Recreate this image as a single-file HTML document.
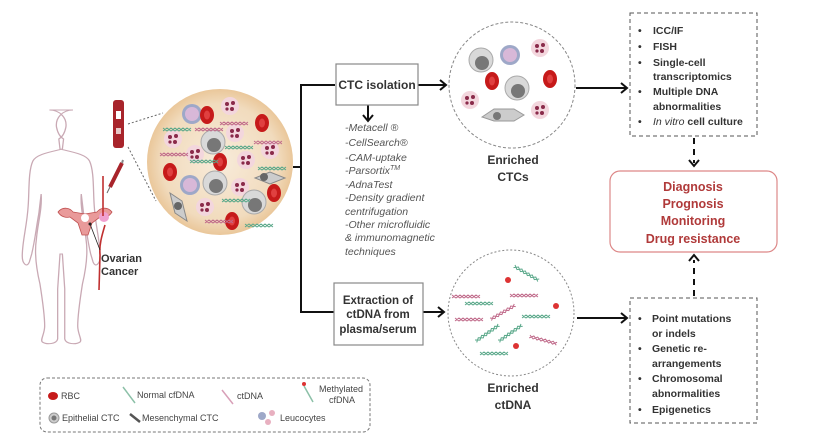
<!DOCTYPE html>
<html><head><meta charset="utf-8"><style>
html,body{margin:0;padding:0;background:#fff;}
svg{display:block;font-family:"Liberation Sans",sans-serif;}
.b{font-weight:bold;fill:#333;font-size:11px;}
.it{font-style:italic;fill:#555;font-size:10.5px;}
.r{fill:#b03a3a;font-size:12.5px;font-weight:bold;}
.lg{fill:#444;font-size:9px;}
</style></head><body>
<svg width="828" height="440" viewBox="0 0 828 440" xmlns="http://www.w3.org/2000/svg">
<defs>
<radialGradient id="bg" cx="50%" cy="50%" r="50%"><stop offset="0" stop-color="#f8ebda"/><stop offset="0.8" stop-color="#f1dbbd"/><stop offset="1" stop-color="#eac79a"/></radialGradient>
<g id="rbc"><ellipse rx="7" ry="9" fill="#c61a1a"/><ellipse rx="3" ry="4.5" fill="#e04040"/></g>
<g id="leu"><circle r="9" fill="#f3d6dd"/><circle cx="-3" cy="-2" r="2" fill="#8a2a4a"/><circle cx="3" cy="-3" r="2" fill="#8a2a4a"/><circle cx="2" cy="3" r="2" fill="#8a2a4a"/><circle cx="-3" cy="3" r="1.6" fill="#8a2a4a"/></g>
<g id="ctc"><circle r="12" fill="#d9d9d9" stroke="#aaa"/><circle cx="1" cy="3" r="7" fill="#777"/></g>
<g id="mono"><circle r="10" fill="#9ea8c8"/><circle r="7" fill="#d8b8d8"/></g>
<g id="dnaP"><path d="M0,0 l4,3 l4,-3 l4,3 l4,-3 l4,3 l4,-3 l4,3 M0,3 l4,-3 l4,3 l4,-3 l4,3 l4,-3 l4,3 l4,-3" stroke="#c06a8a" stroke-width="1" fill="none"/></g>
<g id="dnaG"><path d="M0,0 l4,3 l4,-3 l4,3 l4,-3 l4,3 l4,-3 l4,3 M0,3 l4,-3 l4,3 l4,-3 l4,3 l4,-3 l4,3 l4,-3" stroke="#5aa88a" stroke-width="1" fill="none"/></g>
</defs>

<!-- human figure -->
<g transform="translate(73,0) scale(1.18,1) translate(-73,0)">
<path d="M73,110 c-9,0 -15,8 -14,17 c1,6 3,10 6,12 l-1,10 c-10,3 -22,5 -25,12 c-4,10 -3,30 -4,45 c-1,20 -5,35 -5,50 c0,8 4,12 6,6 l2,-8 c3,-15 4,-28 6,-40 l2,-20 c1,15 -3,30 -4,45 c-2,15 0,30 3,45 c2,15 4,30 4,42 c0,8 -4,14 -2,16 c4,3 12,2 13,-3 l0,-50 l2,-35 l2,0 l2,35 l0,50 c1,5 9,6 13,3 c2,-2 -2,-8 -2,-16 c0,-12 2,-27 4,-42 c3,-15 5,-30 3,-45 c-1,-15 -5,-30 -4,-45 l2,20 c2,12 3,25 6,40 l2,8 c2,6 6,2 6,-6 c0,-15 -4,-30 -5,-50 c-1,-15 0,-35 -4,-45 c-3,-7 -15,-9 -25,-12 l-1,-10 c3,-2 5,-6 6,-12 c1,-9 -5,-17 -14,-17z" fill="#fff" stroke="#c9a9b4" stroke-width="1.1"/>
</g>
<path d="M58,212 c5,-6 12,-4 15,0 l12,2 l12,-2 c3,-4 10,-6 15,0 c-3,5 -8,6 -12,5 l-8,6 l-4,12 l-6,0 l-4,-12 l-8,-6 c-4,1 -9,0 -12,-5z" fill="#e99a9a" stroke="#c05050" stroke-width="0.8"/>
<ellipse cx="85" cy="218" rx="4" ry="4" fill="#fff"/>
<circle cx="104" cy="217" r="5" fill="#f0a0d0"/>
<path d="M105,225 c-3,10 -6,20 -5,30 l-1,35" stroke="#c03030" stroke-width="1.6" fill="none"/>
<path d="M103,176 l0,40" stroke="#c03030" stroke-width="1.6"/>
<line x1="90" y1="224" x2="100" y2="250" stroke="#222" stroke-width="0.8"/><circle cx="90" cy="224" r="1.5" fill="#222"/>
<text class="b" x="101" y="262">Ovarian</text><text class="b" x="101" y="275">Cancer</text>
<!-- tube -->
<rect x="113" y="100" width="11" height="48" rx="3" fill="#a8242b"/>
<rect x="116" y="111" width="5" height="8" fill="#fff"/>
<rect x="116" y="128" width="5" height="6" fill="#e8c8c8"/>
<path d="M122,163 l-12,24" stroke="#a8242b" stroke-width="4"/><path d="M123,160 l-1,3" stroke="#888" stroke-width="2"/><path d="M110,187 l-3,6" stroke="#666" stroke-width="1"/>
<line x1="128" y1="124" x2="163" y2="113" stroke="#666" stroke-dasharray="2,2"/>
<line x1="128" y1="147" x2="156" y2="201" stroke="#666" stroke-dasharray="2,2"/>

<!-- big circle -->
<circle cx="220" cy="162" r="73" fill="url(#bg)"/>
<use href="#mono" x="192" y="114"/><use href="#rbc" x="207" y="115"/><use href="#leu" x="230" y="106"/><use href="#rbc" x="262" y="123"/>
<use href="#leu" x="173" y="139"/><use href="#ctc" x="213" y="142"/><use href="#leu" x="235" y="133"/><use href="#leu" x="270" y="150"/>
<use href="#leu" x="195" y="154"/><use href="#rbc" x="170" y="172"/><use href="#rbc" x="220" y="162"/><use href="#leu" x="246" y="160"/>
<use href="#mono" x="190" y="185"/><use href="#ctc" x="215" y="183"/><use href="#leu" x="240" y="187"/><use href="#rbc" x="274" y="193"/>
<use href="#leu" x="205" y="207"/><use href="#ctc" x="254" y="202"/><use href="#rbc" x="232" y="221"/>
<path d="M255,178 l15,-6 l15,6 l-15,6z" fill="#ccc" stroke="#888"/><circle cx="264" cy="177" r="4" fill="#666"/>
<path d="M170,193 l12,8 l5,20 l-12,-8z" fill="#ccc" stroke="#888"/><circle cx="178" cy="206" r="4" fill="#666"/>
<use href="#dnaP" x="195" y="128"/><use href="#dnaG" x="163" y="128"/><use href="#dnaP" x="220" y="122"/><use href="#dnaG" x="225" y="146"/><use href="#dnaP" x="254" y="141"/><use href="#dnaG" x="258" y="167"/><use href="#dnaP" x="205" y="220"/><use href="#dnaG" x="245" y="224"/><use href="#dnaG" x="222" y="199"/><use href="#dnaP" x="160" y="153"/><use href="#dnaG" x="190" y="160"/>

<!-- connectors -->
<g stroke="#111" stroke-width="2" fill="none">
<path d="M293,167 H301 V85 H335"/><path d="M301,167 V312 H334"/>
<path d="M418,85 H446"/><path d="M440,80 l6,5 l-6,5"/>
<path d="M368,105 V120"/><path d="M363,115 l5,6 l5,-6"/>
<path d="M423,312 H444"/><path d="M438,307 l6,5 l-6,5"/>
<path d="M576,88 H627"/><path d="M621,83 l6,5 l-6,5"/>
<path d="M577,318 H627"/><path d="M621,313 l6,5 l-6,5"/>
<path d="M694,138 V163" stroke-dasharray="6,5"/><path d="M689,160 l5,6 l5,-6"/>
<path d="M694,296 V260" stroke-dasharray="6,5"/><path d="M689,261 l5,-6 l5,6"/>
</g>

<!-- CTC box -->
<rect x="336" y="64" width="82" height="41" fill="#fff" stroke="#888" stroke-width="1.2"/>
<text class="b" x="377" y="89" text-anchor="middle" style="font-size:12px">CTC isolation</text>
<g class="it">
<text x="345" y="131">-Metacell ®</text><text x="345" y="146">-CellSearch®</text><text x="345" y="161">-CAM-uptake</text><text x="345" y="174">-Parsortix<tspan font-size="7" dy="-4">TM</tspan></text><text x="345" y="188">-AdnaTest</text><text x="345" y="201">-Density gradient</text><text x="345" y="215">centrifugation</text><text x="345" y="228">-Other microfluidic</text><text x="345" y="241">&amp; immunomagnetic</text><text x="345" y="255">techniques</text>
</g>
<!-- extraction box -->
<rect x="334" y="283" width="89" height="62" fill="#fff" stroke="#888" stroke-width="1.2"/>
<g class="b" text-anchor="middle" style="font-size:11.5px"><text x="378" y="304">Extraction of</text><text x="378" y="318">ctDNA from</text><text x="378" y="333">plasma/serum</text></g>

<!-- CTC circle -->
<circle cx="512" cy="85" r="63" fill="#fff" stroke="#888" stroke-dasharray="3,2"/>
<use href="#ctc" x="481" y="60"/><use href="#mono" x="510" y="55"/><use href="#leu" x="540" y="48"/>
<use href="#rbc" x="492" y="81"/><use href="#ctc" x="517" y="88"/><use href="#rbc" x="550" y="79"/>
<use href="#leu" x="470" y="100"/><use href="#leu" x="540" y="110"/>
<path d="M482,117 l12,-8 l20,0 l10,6 l-10,6 l-20,0z" fill="#ccc" stroke="#999"/><circle cx="497" cy="116" r="4" fill="#777"/>
<g class="b" text-anchor="middle" style="font-size:12px"><text x="513" y="164">Enriched</text><text x="513" y="181">CTCs</text></g>

<!-- ctDNA circle -->
<circle cx="511" cy="313" r="63" fill="#fff" stroke="#888" stroke-dasharray="2,2"/>
<use href="#dnaG" x="465" y="302"/><use href="#dnaP" x="510" y="294"/><use href="#dnaG" x="515" y="265" transform="rotate(30 515 265)"/>
<use href="#dnaP" x="452" y="295"/><use href="#dnaP" x="455" y="318"/><use href="#dnaP" x="490" y="318" transform="rotate(-30 490 318)"/>
<use href="#dnaG" x="522" y="315"/><use href="#dnaP" x="530" y="335" transform="rotate(15 530 335)"/><use href="#dnaG" x="475" y="340" transform="rotate(-35 475 340)"/><use href="#dnaG" x="498" y="340" transform="rotate(-35 498 340)"/><use href="#dnaG" x="480" y="352"/>
<circle cx="508" cy="280" r="3" fill="#d33"/><circle cx="556" cy="306" r="3" fill="#d33"/><circle cx="516" cy="346" r="3" fill="#d33"/>
<g class="b" text-anchor="middle" style="font-size:12px"><text x="513" y="392">Enriched</text><text x="513" y="409">ctDNA</text></g>

<!-- right boxes -->
<rect x="630" y="13" width="127" height="123" fill="#fff" stroke="#555" stroke-dasharray="4,3"/>
<g class="b" style="font-size:10.5px">
<text x="638" y="34">•</text><text x="653" y="34">ICC/IF</text>
<text x="638" y="50">•</text><text x="653" y="50">FISH</text>
<text x="638" y="66">•</text><text x="653" y="66">Single-cell</text><text x="653" y="80">transcriptomics</text>
<text x="638" y="95">•</text><text x="653" y="95">Multiple DNA</text><text x="653" y="110">abnormalities</text>
<text x="638" y="125">•</text><text x="653" y="125"><tspan font-style="italic" font-weight="normal">In vitro</tspan> cell culture</text>
</g>
<rect x="610" y="171" width="167" height="81" rx="10" fill="#fff" stroke="#d88" stroke-width="1.2"/>
<g class="r" text-anchor="middle"><text x="693" y="191">Diagnosis</text><text x="693" y="208">Prognosis</text><text x="693" y="225">Monitoring</text><text x="693" y="243">Drug resistance</text></g>
<rect x="630" y="298" width="127" height="125" fill="#fff" stroke="#555" stroke-dasharray="4,3"/>
<g class="b" style="font-size:10.5px">
<text x="638" y="322">•</text><text x="652" y="322">Point mutations</text><text x="652" y="337">or indels</text>
<text x="638" y="352">•</text><text x="652" y="352">Genetic re-</text><text x="652" y="367">arrangements</text>
<text x="638" y="382">•</text><text x="652" y="382">Chromosomal</text><text x="652" y="397">abnormalities</text>
<text x="638" y="413">•</text><text x="652" y="413">Epigenetics</text>
</g>

<!-- legend -->
<rect x="40" y="378" width="330" height="54" rx="7" fill="#fff" stroke="#777" stroke-dasharray="3,2"/>
<ellipse cx="53" cy="396" rx="5" ry="4" fill="#c61a1a"/><text class="lg" x="61" y="399">RBC</text>
<line x1="123" y1="387" x2="135" y2="403" stroke="#8cc0a8" stroke-width="1.5"/><text class="lg" x="137" y="398">Normal cfDNA</text>
<line x1="222" y1="390" x2="233" y2="404" stroke="#d8a0b8" stroke-width="1.5"/><text class="lg" x="237" y="399">ctDNA</text>
<line x1="304" y1="386" x2="313" y2="402" stroke="#8cc0a8" stroke-width="1.5"/><circle cx="304" cy="384" r="2" fill="#d33"/>
<text class="lg" x="319" y="392">Methylated</text><text class="lg" x="329" y="403">cfDNA</text>
<circle cx="54" cy="418" r="5" fill="#ccc" stroke="#999"/><circle cx="54" cy="418" r="2.5" fill="#777"/><text class="lg" x="62" y="421">Epithelial CTC</text>
<path d="M130,414 l10,8" stroke="#555" stroke-width="2.5"/><text class="lg" x="142" y="421">Mesenchymal CTC</text>
<circle cx="262" cy="416" r="4" fill="#9ea8c8"/><circle cx="272" cy="413" r="3" fill="#e8b0c0"/><circle cx="268" cy="422" r="3" fill="#e8b0c0"/><text class="lg" x="280" y="421">Leucocytes</text>
</svg>
</body></html>
